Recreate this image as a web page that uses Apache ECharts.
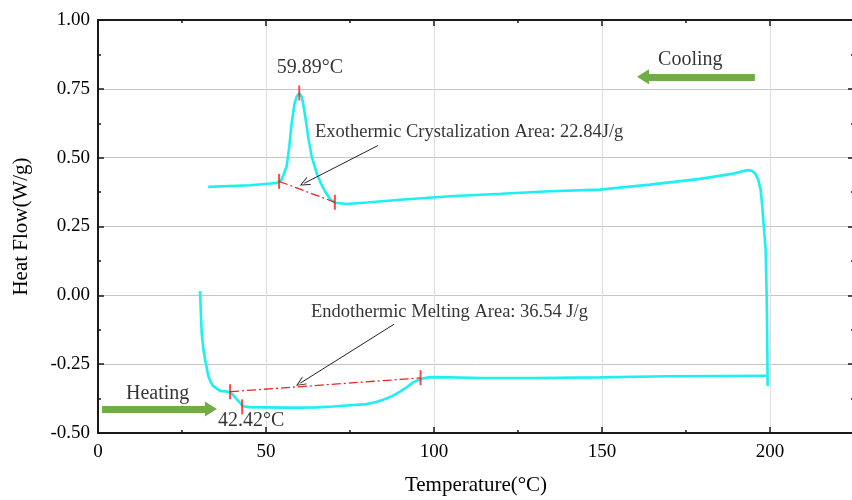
<!DOCTYPE html>
<html>
<head>
<meta charset="utf-8">
<script src="https://cdn.jsdelivr.net/npm/echarts@6/dist/echarts.min.js"></script>
<style>
html,body{margin:0;padding:0;background:#fff;}
#chart{width:852px;height:500px;}
</style>
</head>
<body>
<div id="chart"></div>
<script>
// ---- data ----
const heatingCurve = [
  [30.36,0.016],[30.65,-0.075],[30.85,-0.135],[31.35,-0.196],[31.85,-0.232],[32.35,-0.262],
  [32.8,-0.292],[33.5,-0.314],[34.3,-0.329],[36.3,-0.347],[39.3,-0.351],[41.3,-0.377],
  [43.2,-0.403],[45,-0.406],[50,-0.407],[55,-0.408],[60,-0.408],[65,-0.407],[70,-0.404],
  [75,-0.399],[80,-0.395],[82.5,-0.388],[84.9,-0.379],[87.5,-0.366],[89.9,-0.350],
  [92,-0.333],[93.8,-0.316],[95.3,-0.307],[96.8,-0.301],[98.5,-0.298],[100.8,-0.297],
  [114.7,-0.300],[130,-0.300],[149.4,-0.298],[169.2,-0.294],[185,-0.293],[199.0,-0.292]
];
const coolingCurve = [
  [199.3,-0.329],[199.2,-0.196],[199.0,0.0],[198.7,0.167],[198.0,0.275],[197.7,0.324],
  [197.2,0.384],[196.5,0.420],[195.5,0.4445],[194.5,0.453],[193.05,0.454],[189.1,0.442],
  [179.2,0.423],[164.3,0.402],[149.4,0.384],[134.5,0.378],[120,0.369],[104.8,0.360],
  [90,0.347],[80,0.337],[74.0,0.332],[70.54,0.336],[69.05,0.350],[67.56,0.378],
  [66.27,0.408],[65.08,0.444],[63.59,0.505],[62.6,0.571],[61.9,0.632],[61.11,0.692],
  [60.62,0.722],[59.92,0.734],[59.13,0.722],[58.43,0.692],[57.64,0.626],[56.94,0.541],
  [56.15,0.469],[54.66,0.420],[53.2,0.408],[45.2,0.400],[32.8,0.394]
];
const coolingBaseline = [[53.9,0.414],[70.5,0.338]];
const heatingBaseline = [[39.3,-0.350],[96.0,-0.300]];
const tickMarks = [[53.9,0.414],[59.9,0.735],[70.5,0.338],[39.3,-0.350],[42.9,-0.405],[96.0,-0.299]];
const textNotes = [
  {pos:[63.1,0.826], text:'59.89°C', align:'center'},
  {pos:[64.6,0.591], text:'Exothermic Crystalization Area: 22.84J/g', align:'left', size:18.5},
  {pos:[63.4,-0.062], text:'Endothermic Melting Area: 36.54 J/g', align:'left', size:18.5},
  {pos:[35.7,-0.4565], text:'42.42°C', align:'left'},
  {pos:[8.33,-0.3587], text:'Heating', align:'left'},
  {pos:[166.7,0.855], text:'Cooling', align:'left'}
];
const blackArrows = [
  [[83.3,0.544],[61.4,0.407]],
  [[88.1,-0.105],[60.2,-0.319]]
];
const greenArrows = [
  [[1.2,-0.413],[33.6,-0.413]],
  [[195.5,0.7935],[162.2,0.7935]]
];
const xTickLabels = [0,50,100,150,200];
const yTickLabels = ['-0.50','-0.25','0.00','0.25','0.50','0.75','1.00'];

const FONT = '"Liberation Serif","Times New Roman",serif';
const chart = echarts.init(document.getElementById('chart'), null, {renderer:'canvas'});

const axisLineStyle = {show:true, onZero:false, lineStyle:{color:'#1a1a1a', width:2}};
function xAx(pos, interval, len, withLabels, split){
  return {
    type:'value', min:0, max:225, interval:interval, position:pos,
    axisLine: axisLineStyle,
    axisTick:{show:true, inside:true, length:len, lineStyle:{color:'#1a1a1a', width:1.5}},
    axisLabel: withLabels ? {show:true, fontFamily:FONT, fontSize:19, color:'#000', margin:10,
      formatter: v => xTickLabels.indexOf(v) >= 0 ? String(v) : ''} : {show:false},
    splitLine:{show:split, lineStyle:{color:'#dcdcdc', width:1}},
    name: withLabels ? 'Temperature(°C)' : '',
    nameLocation:'middle', nameGap:42,
    nameTextStyle:{fontFamily:FONT, fontSize:21, color:'#000'}
  };
}
function yAx(pos, withLabels){
  return {
    type:'value', min:-0.5, max:1.0, interval:0.25, position:pos,
    axisLine: axisLineStyle,
    axisTick:{show:true, inside:true, length:6, lineStyle:{color:'#1a1a1a', width:1.5}},
    minorTick:{show:true, splitNumber:2, length:3, lineStyle:{color:'#1a1a1a', width:1.5}},
    axisLabel: withLabels ? {show:true, fontFamily:FONT, fontSize:19, color:'#000', margin:8,
      formatter: v => { const s = v.toFixed(2); return yTickLabels.indexOf(s) >= 0 ? s : ''; }} : {show:false},
    splitLine:{show:withLabels, lineStyle:{color:'#c6c6c6', width:1}},
    name: withLabels ? 'Heat Flow(W/g)' : '',
    nameLocation:'middle', nameGap:66, nameRotate:90,
    nameTextStyle:{fontFamily:FONT, fontSize:21, color:'#000'}
  };
}

const chevron = 'path://M5,0 L10,10 L8.9,10 L5,2.2 L1.1,10 L0,10 Z';

const option = {
  animation:false,
  backgroundColor:'#ffffff',
  grid:{left:98, top:20, width:756, height:413, containLabel:false, outerBoundsMode:'none'},
  xAxis:[ xAx('bottom',50,6,true,true), xAx('bottom',25,3,false,false),
          xAx('top',50,6,false,false), xAx('top',25,3,false,false) ],
  yAxis:[ yAx('left',true), yAx('right',false) ],
  series:[
    {type:'line', name:'heating', data:heatingCurve, showSymbol:false, symbol:'none',
     lineStyle:{color:'#1cf0f2', width:2.6}, z:3},
    {type:'line', name:'cooling', data:coolingCurve, showSymbol:false, symbol:'none',
     lineStyle:{color:'#1cf0f2', width:2.6}, z:3},
    {type:'line', name:'coolBase', data:coolingBaseline, showSymbol:false, symbol:'none',
     lineStyle:{color:'#ee2222', width:1.3, type:[9,3,2,3]}, z:4},
    {type:'line', name:'heatBase', data:heatingBaseline, showSymbol:false, symbol:'none',
     lineStyle:{color:'#ee2222', width:1.3, type:[9,3,2,3]}, z:4},
    {type:'scatter', name:'ticks', data:tickMarks, symbol:'rect', symbolSize:[2,15],
     itemStyle:{color:'#ff1a1a'}, z:5, silent:true},
    {type:'scatter', name:'notes', symbolSize:0, silent:true, z:6,
     data: textNotes.map(n => ({value:n.pos, label:{show:true, position:[0,0], formatter:n.text,
        align:n.align, verticalAlign:'middle', fontFamily:FONT, fontSize:n.size||20, color:'#000'}}))},
    {type:'line', name:'blackArrows', data:[], silent:true, z:6,
     markLine:{silent:true, animation:false, symbol:['none', chevron], symbolSize:[9,10],
       label:{show:false}, lineStyle:{color:'#222', width:1, type:'solid'},
       emphasis:{disabled:true},
       data: blackArrows.map(a => [{coord:a[0]},{coord:a[1]}])}},
    {type:'line', name:'greenArrows', data:[], silent:true, z:6,
     markLine:{silent:true, animation:false, symbol:['none','triangle'], symbolSize:[15,12],
       label:{show:false}, lineStyle:{color:'#70ad47', width:7, type:'solid', cap:'butt'},
       itemStyle:{color:'#70ad47'},
       emphasis:{disabled:true},
       data: greenArrows.map(a => [{coord:a[0]},{coord:a[1]}])}}
  ]
};
chart.setOption(option);
</script>
</body>
</html>
